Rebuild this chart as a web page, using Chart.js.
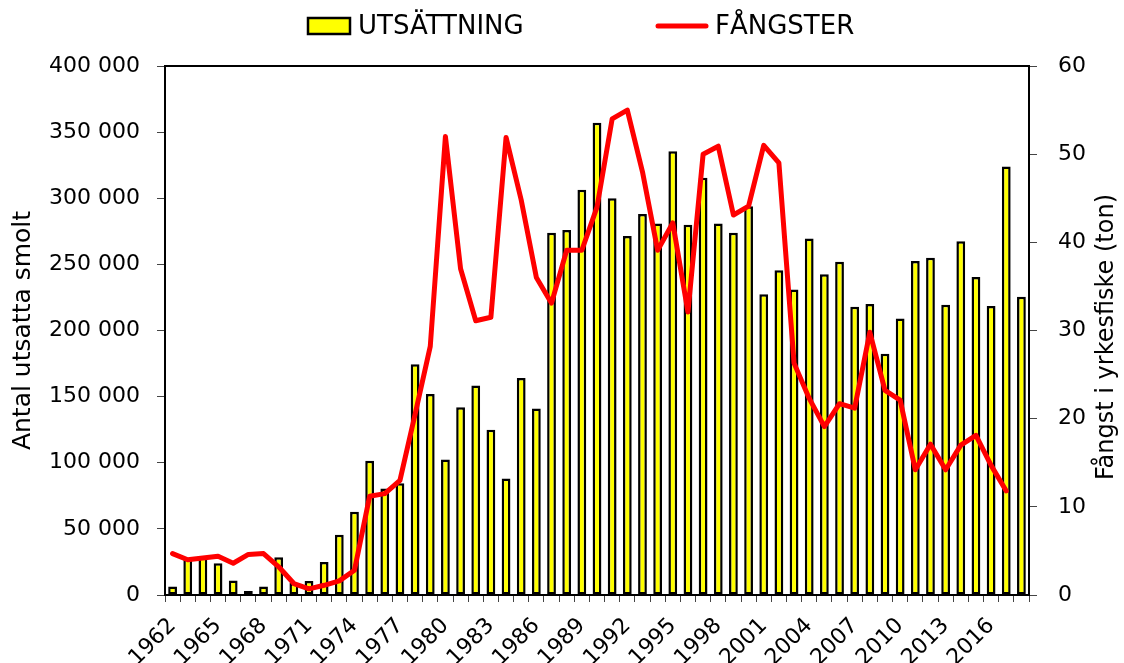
<!DOCTYPE html>
<html>
<head>
<meta charset="utf-8">
<script src="https://cdn.jsdelivr.net/npm/chart.js@4.4.0/dist/chart.umd.min.js"></script>
<style>
  html, body { margin: 0; padding: 0; background: #fff; }
  #wrap { width: 1124px; height: 663px; }
</style>
</head>
<body>
<div id="wrap"><canvas id="chart" width="1124" height="663"></canvas></div>
<script>
// categories (one bar per year)
const YEARS = [
  '1962', '1963', '1964', '1965', '1966', '1967', '1968', '1969',
  '1970', '1971', '1972', '1973', '1974', '1975', '1976', '1977', '1978', '1979',
  '1980', '1981', '1982', '1983', '1984', '1985', '1986', '1987', '1988', '1989',
  '1990', '1991', '1992', '1993', '1994', '1995', '1996', '1997', '1998', '1999',
  '2000', '2001', '2002', '2003', '2004', '2005', '2006', '2007', '2008', '2009',
  '2010', '2011', '2012', '2013', '2014', '2015', '2016', '2017', '2018'
];

// antal utsatta smolt (bars, left axis)
const UTSATTNING = [
  6500, 27500, 29000, 24000, 11000, 3000, 6500, 28500,
  9000, 10500, 25000, 45500, 63000, 101500, 80500, 84500, 174500, 152000,
  102500, 142000, 158500, 125000, 88000, 164000, 141000, 274000, 276000, 306500,
  357000, 300000, 271500, 288000, 281000, 335500, 280000, 315500, 281000, 274000,
  294000, 227500, 245500, 231000, 269500, 242500, 252000, 218000, 220000, 182500,
  209000, 252500, 255000, 219500, 267500, 240500, 218500, 324000, 225500
];

// fångst i yrkesfiske, ton (line, right axis) 1962-2017
const FANGSTER = [
  4.7, 4.0, 4.2, 4.4, 3.6, 4.6, 4.7, 3.2,
  1.3, 0.7, 1.1, 1.6, 2.8, 11.2, 11.5, 13.0, 20.5, 28.2,
  52.0, 37.0, 31.1, 31.5, 51.9, 44.8, 36.0, 33.1, 39.1, 39.1,
  44.0, 54.0, 55.0, 48.0, 39.1, 42.2, 32.1, 50.0, 50.9, 43.1,
  44.1, 51.0, 49.0, 26.3, 22.3, 19.1, 21.7, 21.2, 29.8, 23.2,
  22.1, 14.2, 17.1, 14.2, 17.0, 18.1, 14.7, 11.8
];

// tick labels
const X_TICK_LABELS = ['1962', '1965', '1968', '1971', '1974', '1977', '1980', '1983', '1986',
  '1989', '1992', '1995', '1998', '2001', '2004', '2007', '2010', '2013', '2016'];
const Y_MAX = 400000, Y_STEP = 50000;
const Y1_MAX = 60, Y1_STEP = 10;

const Y_TITLE = 'Antal utsatta smolt';
const Y1_TITLE = 'Fångst i yrkesfiske (ton)';

Chart.defaults.font.family = "'DejaVu Sans', sans-serif";
Chart.defaults.color = '#000';

const fmtThousands = v => String(v).replace(/\B(?=(\d{3})+(?!\d))/g, ' ');

// box round the plot area
const framePlugin = {
  id: 'frame',
  afterDatasetsDraw(chart) {
    const { ctx, chartArea: a } = chart;
    ctx.save();
    ctx.strokeStyle = '#000';
    ctx.lineWidth = 2;
    ctx.strokeRect(a.left, a.top, a.right - a.left, a.bottom - a.top);
    ctx.restore();
  }
};

// right title reads bottom-to-top, plus the legend row above the plot
const extrasPlugin = {
  id: 'extras',
  afterDraw(chart) {
    const { ctx } = chart;
    const ds = chart.data.datasets;
    ctx.save();

    ctx.fillStyle = '#000';
    ctx.font = "24px 'DejaVu Sans'";
    ctx.textAlign = 'center';
    ctx.textBaseline = 'middle';
    ctx.translate(1107, 337);
    ctx.rotate(-Math.PI / 2);
    ctx.fillText(Y1_TITLE, 0, 0);
    ctx.setTransform(1, 0, 0, 1, 0, 0);

    ctx.font = "26px 'DejaVu Sans'";
    ctx.textAlign = 'left';
    // bar item
    ctx.fillStyle = ds[0].backgroundColor;
    ctx.fillRect(308, 18, 42, 16);
    ctx.strokeStyle = ds[0].borderColor;
    ctx.lineWidth = 2.5;
    ctx.strokeRect(308, 18, 42, 16);
    ctx.fillStyle = '#000';
    ctx.fillText(ds[0].label, 358, 27);
    // line item
    ctx.strokeStyle = ds[1].borderColor;
    ctx.lineWidth = 5;
    ctx.lineCap = 'round';
    ctx.beginPath();
    ctx.moveTo(658, 26);
    ctx.lineTo(706, 26);
    ctx.stroke();
    ctx.fillText(ds[1].label, 715, 27);

    ctx.restore();
  }
};

new Chart(document.getElementById('chart'), {
  type: 'bar',
  data: {
    labels: YEARS,
    datasets: [
      {
        type: 'bar',
        label: 'UTSÄTTNING',
        data: UTSATTNING,
        yAxisID: 'y',
        backgroundColor: '#ffff00',
        borderColor: '#000000',
        borderWidth: 2.5,
        borderSkipped: false,
        barPercentage: 0.58,
        categoryPercentage: 1,
        order: 1
      },
      {
        type: 'line',
        label: 'FÅNGSTER',
        data: FANGSTER,
        yAxisID: 'y1',
        borderColor: '#ff0000',
        borderWidth: 5,
        borderJoinStyle: 'round',
        borderCapStyle: 'round',
        pointRadius: 0,
        tension: 0,
        fill: false,
        order: 0
      }
    ]
  },
  options: {
    responsive: false,
    animation: false,
    layout: { padding: { top: 66, left: 0, right: 0, bottom: 0 } },
    plugins: {
      legend: { display: false },
      tooltip: { enabled: false }
    },
    scales: {
      x: {
        offset: true,
        grid: { drawOnChartArea: false, drawTicks: true, tickLength: 7, tickColor: '#444', offset: true },
        border: { display: false },
        ticks: {
          autoSkip: false,
          minRotation: 45,
          maxRotation: 45,
          padding: 11,
          font: { size: 22 },
          callback: function (value, index) {
            const lbl = YEARS[index];
            return X_TICK_LABELS.includes(lbl) ? lbl : '';
          }
        },
        afterFit: s => { s.height = 68; }
      },
      y: {
        position: 'left',
        min: 0,
        max: Y_MAX,
        grid: { drawOnChartArea: false, tickLength: 8, tickColor: '#444' },
        border: { display: false },
        ticks: { stepSize: Y_STEP, padding: 17, font: { size: 22 }, callback: v => fmtThousands(v) },
        title: { display: true, text: Y_TITLE, font: { size: 25 }, padding: { top: 8, bottom: 0 } },
        afterFit: s => { s.width = 165; }
      },
      y1: {
        position: 'right',
        min: 0,
        max: Y1_MAX,
        grid: { drawOnChartArea: false, tickLength: 8, tickColor: '#444' },
        border: { display: false },
        ticks: { stepSize: Y1_STEP, padding: 21, font: { size: 22 } },
        afterFit: s => { s.width = 95; }
      }
    }
  },
  plugins: [framePlugin, extrasPlugin]
});
</script>
</body>
</html>
